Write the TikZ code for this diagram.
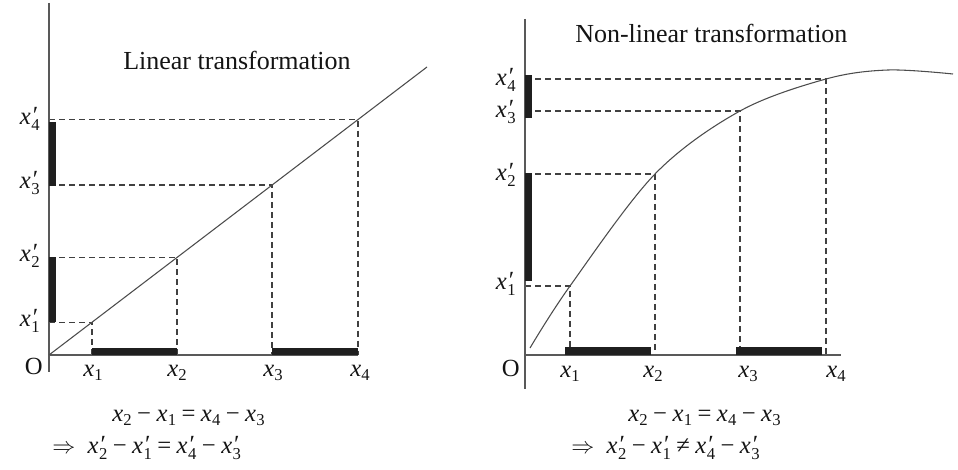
\documentclass[tikz,border=0pt]{standalone}
\usepackage{fontspec}
\setmainfont{Liberation Serif}
\newcommand{\subsz}{\fontsize{12.5}{13}\selectfont}
\newcommand{\vx}[1]{\textit{x}\kern0.01em\raisebox{-0.35ex}{\subsz #1}}
\newcommand{\px}[1]{\textit{x}\kern0.02em\rlap{\raisebox{0.15ex}{\textit{′}}}\raisebox{-0.45ex}{\subsz #1}}
\newcommand{\op}[1]{\kern0.22em#1\kern0.22em}
\tikzset{
  ax/.style={draw=black!65, line width=1.1pt},
  mapline/.style={draw=black!70, line width=0.8pt},
  guide/.style={draw=black!75, line width=0.9pt, dash pattern=on 4.5pt off 3pt},
  seg/.style={fill=black!88, draw=none},
  lab/.style={font=\fontsize{18.5}{20}\selectfont, inner sep=0pt, text=black!92},
  ttl/.style={font=\fontsize{19.5}{22}\selectfont, inner sep=0pt, text=black!92},
}
\begin{document}
\begin{tikzpicture}[x=0.75pt, y=-0.75pt]
\useasboundingbox (0,0) rectangle (958,470);
% ---------------- Left panel ----------------
\coordinate (LO) at (49,355);
\coordinate (Lend) at (427,67);
\coordinate (L1) at (92,322.2);
\coordinate (L2) at (177,257.5);
\coordinate (L3) at (272,185.1);
\coordinate (L4) at (358,119.6);
\coordinate (LY1) at (49,322.2);
\coordinate (LY2) at (49,257.5);
\coordinate (LY3) at (49,185.1);
\coordinate (LY4) at (49,119.6);
\coordinate (LX1) at (92,355);
\coordinate (LX2) at (177,355);
\coordinate (LX3) at (272,355);
\coordinate (LX4) at (358,355);
\coordinate (LYtop) at (49,3);
\coordinate (LYbot) at (49,372);
\draw[guide] (LY1) -- (L1) -- (LX1);
\draw[guide] (LY2) -- (L2) -- (LX2);
\draw[guide] (LY3) -- (L3) -- (LX3);
\draw[guide] (LY4) -- (L4) -- (LX4);
\draw[ax] (LYtop) -- (LYbot);
\draw[ax] (LO) -- (LX4);
\draw[mapline] (LO) -- (Lend);
\fill[seg] (49,122) rectangle (56,186);
\fill[seg] (49,257) rectangle (56,322);
\fill[seg] (92,348) rectangle (177,355);
\fill[seg] (272,348) rectangle (358,355);
\node[lab, anchor=base east] (lp4) at (40,125) {\px{4}};
\node[lab, anchor=base east] (lp3) at (40,189) {\px{3}};
\node[lab, anchor=base east] (lp2) at (40,262) {\px{2}};
\node[lab, anchor=base east] (lp1) at (40,327) {\px{1}};
\node[lab, anchor=base east] (lO) at (43,375) {O};
\node[lab, anchor=base west] (lx1) at (83,377) {\vx{1}};
\node[lab, anchor=base west] (lx2) at (167,377) {\vx{2}};
\node[lab, anchor=base west] (lx3) at (263,377) {\vx{3}};
\node[lab, anchor=base west] (lx4) at (350,377) {\vx{4}};
\node[ttl, anchor=base west] (ltitle) at (123,70) {Linear transformation};
\node[lab, anchor=base west] (leq1) at (112,422) {\vx{2}\op{−}\vx{1}\op{=}\vx{4}\op{−}\vx{3}};
\node[lab, anchor=base west] (leq2) at (52,454) {$\Rightarrow$\enspace\px{2}\op{−}\px{1}\op{=}\px{4}\op{−}\px{3}};
% ---------------- Right panel ----------------
\coordinate (RO) at (525,355);
\coordinate (R1) at (570,286);
\coordinate (R2) at (655,174);
\coordinate (R3) at (740,111);
\coordinate (R4) at (826,79);
\coordinate (RY1) at (525,286);
\coordinate (RY2) at (525,174);
\coordinate (RY3) at (525,111);
\coordinate (RY4) at (525,79);
\coordinate (RX1) at (570,355);
\coordinate (RX2) at (655,355);
\coordinate (RX3) at (740,355);
\coordinate (RX4) at (826,355);
\coordinate (RXend) at (841,355);
\coordinate (RYtop) at (525,19);
\coordinate (RYbot) at (525,389);
\draw[guide] (RY1) -- (R1) -- (RX1);
\draw[guide] (RY2) -- (R2) -- (RX2);
\draw[guide] (RY3) -- (R3) -- (RX3);
\draw[guide] (RY4) -- (R4) -- (RX4);
\draw[ax] (RYtop) -- (RYbot);
\draw[ax] (RO) -- (RXend);
\draw[mapline] plot[smooth, tension=0.55] coordinates {(530,348) (570,286) (655,174) (740,111) (826,79) (888,70) (953,74)};
\fill[seg] (525,75) rectangle (532,118);
\fill[seg] (525,173) rectangle (532,281);
\fill[seg] (565,347) rectangle (651,355);
\fill[seg] (736,347) rectangle (822,355);
\node[lab, anchor=base east] (rp4) at (516,86) {\px{4}};
\node[lab, anchor=base east] (rp3) at (516,118) {\px{3}};
\node[lab, anchor=base east] (rp2) at (516,181) {\px{2}};
\node[lab, anchor=base east] (rp1) at (516,290) {\px{1}};
\node[lab, anchor=base east] (rO) at (520,377) {O};
\node[lab, anchor=base west] (rx1) at (560,378) {\vx{1}};
\node[lab, anchor=base west] (rx2) at (643,378) {\vx{2}};
\node[lab, anchor=base west] (rx3) at (738,378) {\vx{3}};
\node[lab, anchor=base west] (rx4) at (826,378) {\vx{4}};
\node[ttl, anchor=base west] (rtitle) at (575,43) {Non-linear transformation};
\node[lab, anchor=base west] (req1) at (628,422) {\vx{2}\op{−}\vx{1}\op{=}\vx{4}\op{−}\vx{3}};
\node[lab, anchor=base west] (req2) at (571,454) {$\Rightarrow$\enspace\px{2}\op{−}\px{1}\op{≠}\px{4}\op{−}\px{3}};
\end{tikzpicture}
\end{document}
